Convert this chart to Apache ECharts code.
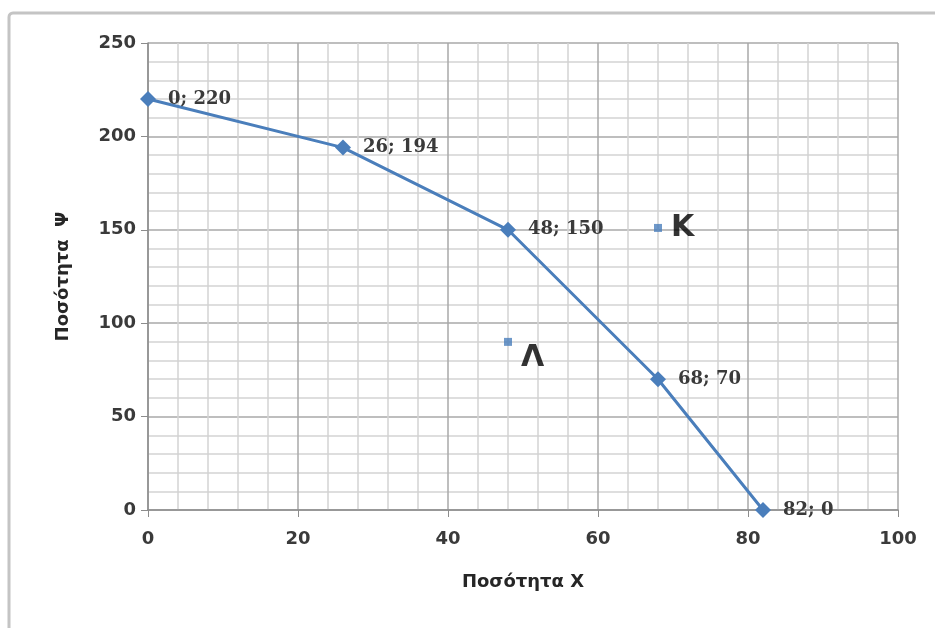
<!DOCTYPE html>
<html>
<head>
<meta charset="utf-8">
<script src="https://cdn.jsdelivr.net/npm/echarts@6/dist/echarts.min.js"></script>
<style>html,body{margin:0;padding:0;background:#fff}#c{width:935px;height:628px}</style>
</head>
<body>
<div id="c"></div>
<script>
const frontierX = [0, 26, 48, 68, 82];
const frontierY = [220, 194, 150, 70, 0];
const pointNames = ['K', 'Λ'];
const pointX = [68, 48];
const pointY = [151, 90];
const xTitle = 'Ποσότητα X';
const yTitle = 'Ποσότητα  Ψ';

const labelOffsets = [[0, 0], [0, 16]];

const chart = echarts.init(document.getElementById('c'));
const tickFont = {fontFamily: 'DejaVu Sans', fontSize: 18, fontWeight: 'bold', color: '#3a3a3a'};
const titleFont = {fontFamily: 'DejaVu Sans', fontSize: 18, fontWeight: 'bold', color: '#262626'};
chart.setOption({
  animation: false,
  graphic: [{
    type: 'rect', shape: {x: 9, y: 13, width: 960, height: 660, r: 4},
    style: {fill: 'none', stroke: '#c4c4c4', lineWidth: 3}, silent: true, z: -1
  }],
  grid: {left: 148, right: 37, top: 43, bottom: 118},
  xAxis: {
    type: 'value', min: 0, max: 100, interval: 20,
    name: xTitle, nameLocation: 'middle', nameGap: 63,
    nameTextStyle: titleFont,
    axisLine: {show: true, lineStyle: {color: '#8c8c8c', width: 1.5}},
    axisTick: {show: true, length: 7, lineStyle: {color: '#8c8c8c'}},
    axisLabel: Object.assign({margin: 20}, tickFont),
    splitLine: {show: true, lineStyle: {color: '#a8a8a8', width: 1.5}},
    minorTick: {show: false, splitNumber: 5},
    minorSplitLine: {show: true, lineStyle: {color: '#d4d4d4', width: 1.5}}
  },
  yAxis: {
    type: 'value', min: 0, max: 250, interval: 50,
    name: yTitle, nameLocation: 'middle', nameGap: 76, nameRotate: 90,
    nameTextStyle: titleFont,
    axisLine: {show: true, lineStyle: {color: '#8c8c8c', width: 1.5}},
    axisTick: {show: true, length: 7, lineStyle: {color: '#8c8c8c'}},
    axisLabel: Object.assign({margin: 12}, tickFont),
    splitLine: {show: true, lineStyle: {color: '#a8a8a8', width: 1.5}},
    minorTick: {show: false, splitNumber: 5},
    minorSplitLine: {show: true, lineStyle: {color: '#d4d4d4', width: 1.5}}
  },
  series: [{
    type: 'line',
    data: frontierX.map((x, i) => [x, frontierY[i]]),
    symbol: 'diamond', symbolSize: 16,
    lineStyle: {color: '#4a7ebb', width: 3},
    itemStyle: {color: '#4a7ebb'},
    label: {
      show: true, position: 'right', distance: 12,
      formatter: p => p.value[0] + '; ' + p.value[1],
      fontFamily: 'DejaVu Serif', fontSize: 18, fontWeight: 'bold', color: '#3a3a3a'
    },
    z: 3
  }, {
    type: 'scatter',
    data: pointX.map((x, i) => ({
      value: [x, pointY[i]], name: pointNames[i],
      label: {offset: labelOffsets[i], color: '#000'}
    })),
    symbol: 'rect', symbolSize: 8,
    itemStyle: {color: '#4a7ebb'},
    label: {
      show: true, position: 'right', distance: 9, formatter: p => p.name,
      fontFamily: 'DejaVu Sans', fontSize: 30, fontWeight: 'bold', color: '#000'
    },
    z: 4
  }]
});
</script>
</body>
</html>
